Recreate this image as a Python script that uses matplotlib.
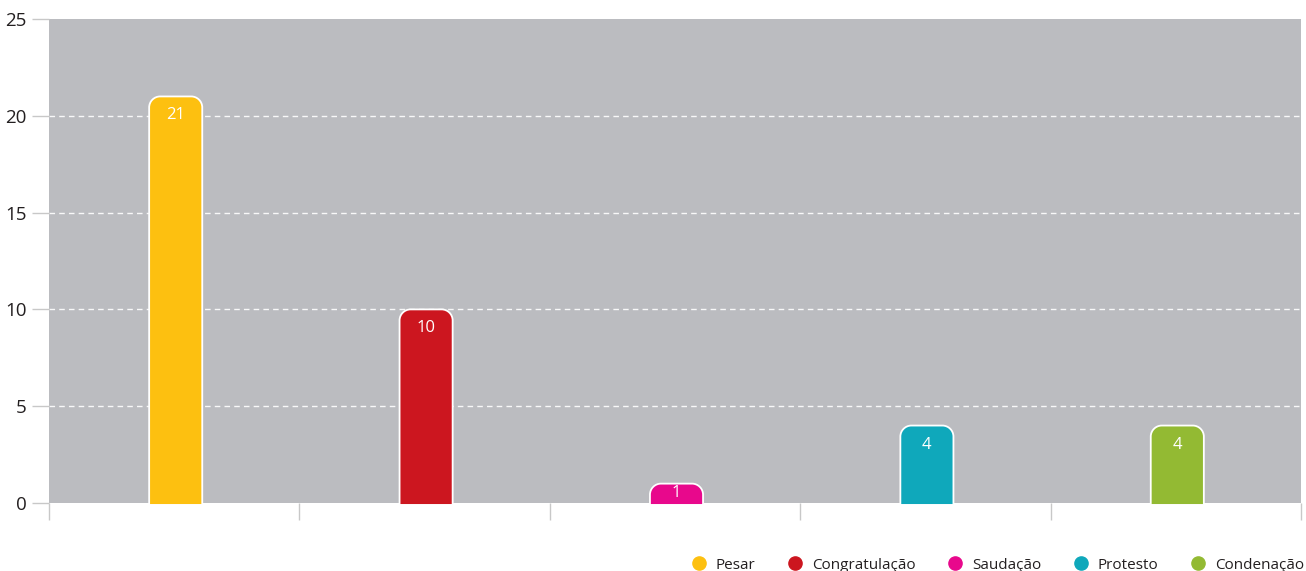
import matplotlib
matplotlib.use("Agg")
import matplotlib.pyplot as plt
from matplotlib.path import Path
from matplotlib.patches import PathPatch
from matplotlib.lines import Line2D

categories = ["Pesar", "Congratulação", "Saudação", "Protesto", "Condenação"]
values = [21, 10, 1, 4, 4]
colors = ["#FDC010", "#CC161F", "#E8088C", "#0FA8BB", "#93BA33"]
yticks = [0, 5, 10, 15, 20, 25]

BG = "#BBBCC0"
TICK = "#C8C8C8"
TXT = "#231F20"

plt.rcParams["font.family"] = ["Open Sans", "DejaVu Sans"]

W, H = 13.06, 5.71
fig = plt.figure(figsize=(W, H), dpi=100)
left, right = 49 / 1306, 1301 / 1306
bottom, top = 68 / 571, 552 / 571
ax = fig.add_axes([left, bottom, right - left, top - bottom])
ax.set_facecolor(BG)

n = len(categories)
ax.set_xlim(0, n)
ax.set_ylim(0, 25)

# pixel scale for rounded corners
px_x = (right - left) * W * 100 / n
px_y = (top - bottom) * H * 100 / 25
r_px = 11
rx, ry = r_px / px_x, r_px / px_y
bw = 0.212
shift = 1.5 / px_x

for i, (v, c) in enumerate(zip(values, colors)):
    xc = i + 0.5 + shift
    x0, x1 = xc - bw / 2, xc + bw / 2
    y0 = -0.1
    ry_i = min(ry, v * 0.9)
    k = 0.55
    verts = [(x0, y0), (x0, v - ry_i),
             (x0, v - ry_i * (1 - k)), (x0 + rx * (1 - k), v), (x0 + rx, v),
             (x1 - rx, v),
             (x1 - rx * (1 - k), v), (x1, v - ry_i * (1 - k)), (x1, v - ry_i),
             (x1, y0), (x0, y0)]
    codes = [Path.MOVETO, Path.LINETO,
             Path.CURVE4, Path.CURVE4, Path.CURVE4,
             Path.LINETO,
             Path.CURVE4, Path.CURVE4, Path.CURVE4,
             Path.LINETO, Path.CLOSEPOLY]
    ax.add_patch(PathPatch(Path(verts, codes), facecolor=c, edgecolor="white",
                           lw=1.3, zorder=3, clip_on=False))
    if v * px_y < 35:
        ax.text(xc, v / 2, str(v), ha="center", va="center",
                color="white", fontsize=12, zorder=4)
    else:
        ax.text(xc, v - 11 / px_y, str(v), ha="center", va="top",
                color="white", fontsize=12, zorder=4)

for y in yticks[1:-1]:
    ax.axhline(y, color="white", lw=1, ls=(0, (4, 3)), alpha=0.9, zorder=1)

for s in ax.spines.values():
    s.set_visible(False)

ax.set_yticks(yticks)
ax.set_yticklabels([str(t) for t in yticks], fontsize=13.5, color=TXT)
ax.tick_params(axis="y", length=12, width=1, color=TICK, pad=4)
ax.set_xticks(range(n + 1))
ax.set_xticklabels([])
ax.tick_params(axis="x", length=12, width=1, color=TICK)

handles = [Line2D([], [], marker="o", ls="none", color=c, markersize=9.5)
           for c in colors]
fig.legend(handles, categories, loc="lower right", ncol=n, frameon=False,
           bbox_to_anchor=(1.009, -0.027), fontsize=11, columnspacing=1.9,
           handlelength=1.4, handletextpad=0.4, labelcolor=TXT)

fig.savefig("out.png", dpi=100)
